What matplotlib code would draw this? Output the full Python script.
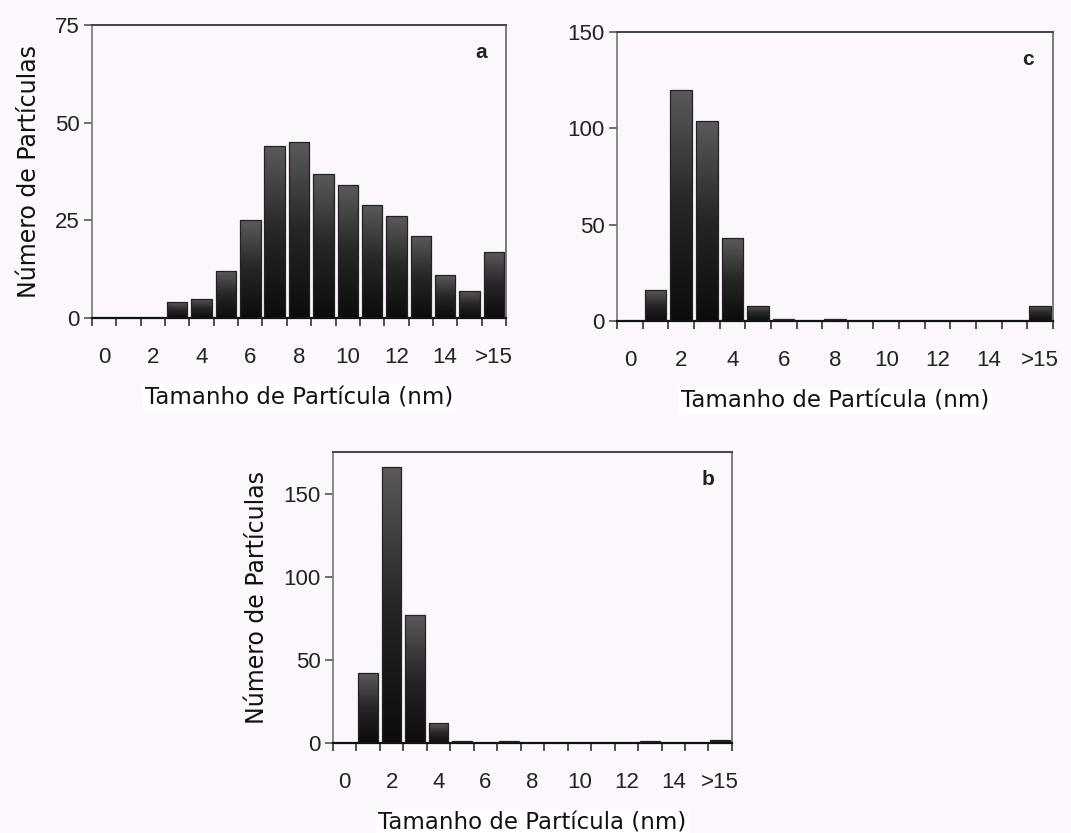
import matplotlib
matplotlib.use("Agg")

import matplotlib.pyplot as plt
from matplotlib.colors import LinearSegmentedColormap
import numpy as np

# bins 0..15 plus ">15"
bin_labels = ['0', '', '2', '', '4', '', '6', '', '8', '', '10', '', '12', '', '14', '', '>15']
counts_a = [0, 0, 0, 4, 5, 12, 25, 44, 45, 37, 34, 29, 26, 21, 11, 7, 17]
counts_b = [0, 42, 166, 77, 12, 1, 0, 1, 0, 0, 0, 0, 0, 1, 0, 0, 2]
counts_c = [0, 16, 120, 104, 43, 8, 1, 0, 1, 0, 0, 0, 0, 0, 0, 0, 8]

BG = '#fcf7fc'
grad_cmap = LinearSegmentedColormap.from_list('bargrad', ['#0c0c0c', '#262626', '#5a5a5a'])

fig = plt.figure(figsize=(10.71, 8.33), dpi=100)
fig.patch.set_facecolor(BG)


def panel(rect, counts, ymax, yticks, letter, ylabel=True):
    ax = fig.add_axes(rect)
    ax.set_facecolor(BG)
    x = np.arange(len(counts)) + 0.5
    bars = ax.bar(x, counts, width=0.84, color='none', edgecolor='#222222', linewidth=0.9, zorder=3)
    grad = np.linspace(0, 1, 100).reshape(-1, 1)
    for b in bars:
        h = b.get_height()
        if h <= 0:
            continue
        x0 = b.get_x()
        im = ax.imshow(grad, cmap=grad_cmap, aspect='auto', origin='lower',
                       extent=[x0, x0 + b.get_width(), 0, h], zorder=2)
        im.set_clip_path(b)
    ax.set_xlim(0, len(counts))
    ax.set_ylim(0, ymax)
    ax.set_yticks(yticks)
    ax.set_xticks(x[::2])
    ax.set_xticklabels([l for l in bin_labels[::2]])
    ax.set_xticks(np.arange(len(counts) + 1), minor=True)
    ax.tick_params(axis='x', which='major', length=0, pad=21, labelsize=16)
    ax.tick_params(axis='x', which='minor', length=6, width=1.2, color='#333333', direction='out')
    ax.tick_params(axis='y', length=6, width=1.2, color='#555555', labelsize=16, pad=3)
    for lab in ax.get_xticklabels() + ax.get_yticklabels():
        lab.set_family('Liberation Sans')
        lab.set_color('#222222')
    ax.spines['bottom'].set_color('#111111')
    ax.spines['bottom'].set_linewidth(1.6)
    ax.spines['top'].set_color('#444444')
    ax.spines['top'].set_linewidth(1.4)
    ax.spines['left'].set_color('#777777')
    ax.spines['left'].set_linewidth(1.2)
    ax.spines['right'].set_color('#666666')
    ax.spines['right'].set_linewidth(1.2)
    ax.set_xlabel('Tamanho de Partícula (nm)', fontsize=16.5, family='DejaVu Sans', labelpad=13,
                  color='#111111', bbox=dict(facecolor='white', edgecolor='none', pad=2))
    if ylabel:
        ax.set_ylabel('Número de Partículas', fontsize=17, family='DejaVu Sans', labelpad=10,
                      color='#111111')
    ax.text(0.955, 0.905, letter, transform=ax.transAxes, ha='right', va='center',
            fontsize=15, fontweight='bold', family='Liberation Sans', color='#222222')
    return ax


panel([0.0859, 0.6182, 0.3866, 0.3517], counts_a, 75, [0, 25, 50, 75], 'a')
panel([0.5761, 0.6146, 0.4071, 0.3469], counts_c, 150, [0, 50, 100, 150], 'c', ylabel=False)
panel([0.3109, 0.1080, 0.3725, 0.3493], counts_b, 175, [0, 50, 100, 150], 'b')

fig.savefig('out.png', dpi=100, facecolor=BG)
plt.close(fig)
